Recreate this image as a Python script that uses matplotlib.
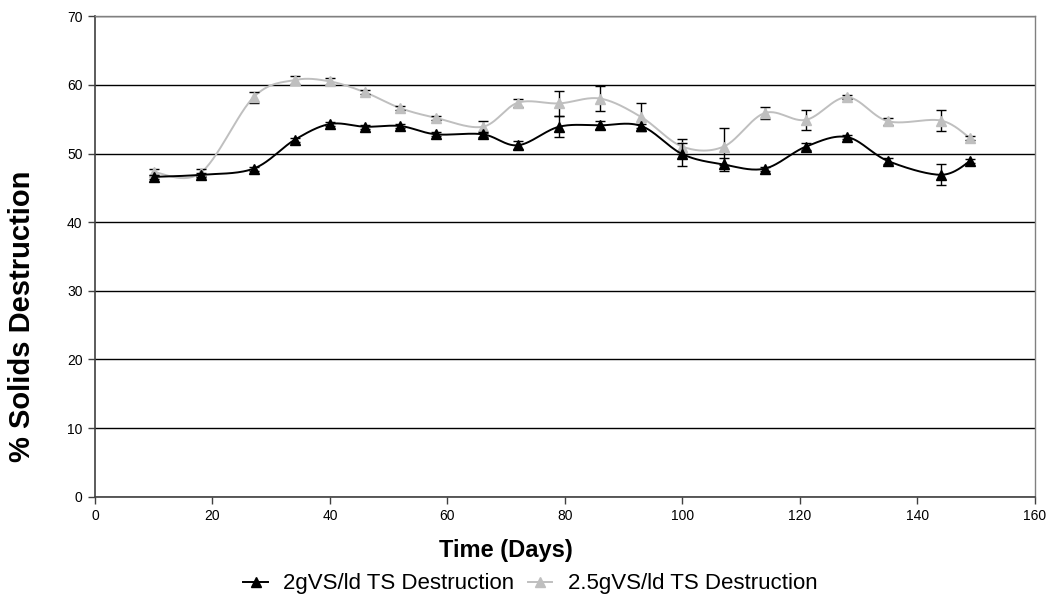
import numpy as np
import matplotlib
matplotlib.use("Agg")
import matplotlib.pyplot as plt
from matplotlib.lines import Line2D

plt.rcParams['font.family'] = ['Liberation Sans', 'DejaVu Sans']

days = [10, 18, 27, 34, 40, 46, 52, 58, 66, 72, 79, 86, 93, 100, 107, 114, 121, 128, 135, 144, 149]
ts_2g = [46.6, 46.9, 47.8, 52.0, 54.3, 53.9, 54.0, 52.8, 52.8, 51.2, 53.9, 54.1, 54.0, 49.9, 48.4, 47.8, 51.0, 52.4, 48.9, 46.9, 48.9]
err_2g = [0.3, 0.3, 0.3, 0.3, 0.3, 0.3, 0.3, 0.3, 0.4, 0.6, 1.5, 0.6, 0.3, 1.7, 1.0, 0.3, 0.5, 0.3, 0.5, 1.5, 0.3]
ts_25g = [47.3, 47.2, 58.2, 60.7, 60.5, 58.9, 56.6, 55.2, 53.9, 57.4, 57.3, 58.0, 55.3, 51.0, 51.0, 55.9, 54.9, 58.2, 54.7, 54.8, 52.2]
err_25g = [0.5, 0.5, 0.8, 0.6, 0.5, 0.3, 0.3, 0.3, 0.9, 0.6, 1.8, 1.8, 2.0, 1.1, 2.7, 0.9, 1.45, 0.3, 0.5, 1.5, 0.3]

labels = ['2gVS/ld TS Destruction', '2.5gVS/ld TS Destruction']
colors = ['black', '#BFBFBF']


def smooth(x, y, n=30):
    # Catmull-Rom style bezier through every point
    p = np.column_stack([x, y]).astype(float)
    p = np.vstack([p[0], p, p[-1]])
    out = []
    t = np.linspace(0, 1, n)[:, None]
    for i in range(1, len(p) - 2):
        p0, p1, p2, p3 = p[i - 1], p[i], p[i + 1], p[i + 2]
        c1 = p1 + (p2 - p0) / 6.0
        c2 = p2 - (p3 - p1) / 6.0
        seg = ((1 - t) ** 3) * p1 + 3 * ((1 - t) ** 2) * t * c1 + 3 * (1 - t) * t ** 2 * c2 + t ** 3 * p2
        out.append(seg if i == 1 else seg[1:])
    out = np.vstack(out)
    return out[:, 0], out[:, 1]


fig = plt.figure(figsize=(10.61, 6.0), dpi=100)
ax = fig.add_axes([0.0895, 0.172, 0.886, 0.801])

for yv, ev, c, z in [(ts_25g, err_25g, colors[1], 2), (ts_2g, err_2g, colors[0], 3)]:
    sx, sy = smooth(days, yv)
    ax.plot(sx, sy, color=c, lw=1.4, zorder=z)
    ax.errorbar(days, yv, yerr=ev, fmt='none', ecolor='black', elinewidth=1.0,
                capsize=3.5, capthick=1.0, zorder=z)
    ax.plot(days, yv, ls='none', marker='^', ms=7.5, color=c, zorder=z + 0.5)

ax.set_xlim(0, 160)
ax.set_ylim(0, 70)
ax.set_xticks(np.arange(0, 161, 20))
ax.set_yticks(np.arange(0, 71, 10))
ax.yaxis.grid(True, color='black', lw=1.0)
ax.set_axisbelow(True)
ax.tick_params(axis='both', direction='out', length=5, width=1, color='#404040',
               labelsize=10, pad=4)
for side in ['left', 'bottom']:
    ax.spines[side].set_color('#404040')
    ax.spines[side].set_linewidth(1.2)
for side in ['right', 'top']:
    ax.spines[side].set_color('#808080')
    ax.spines[side].set_linewidth(1.0)

fig.text(0.477, 0.072, 'Time (Days)', fontsize=17, fontweight='bold',
         ha='center', va='baseline')
fig.text(0.021, 0.472, '% Solids Destruction', fontsize=21, fontweight='bold',
         rotation=90, ha='center', va='center')

handles = [Line2D([0], [0], color=c, marker='^', ms=7, lw=1.4) for c in colors]
fig.legend(handles, labels, loc='center', bbox_to_anchor=(0.5, 0.027), ncol=2,
           frameon=False, fontsize=16, handlelength=1.1, handletextpad=0.7,
           columnspacing=0.6)

fig.savefig('out.png', dpi=100)
